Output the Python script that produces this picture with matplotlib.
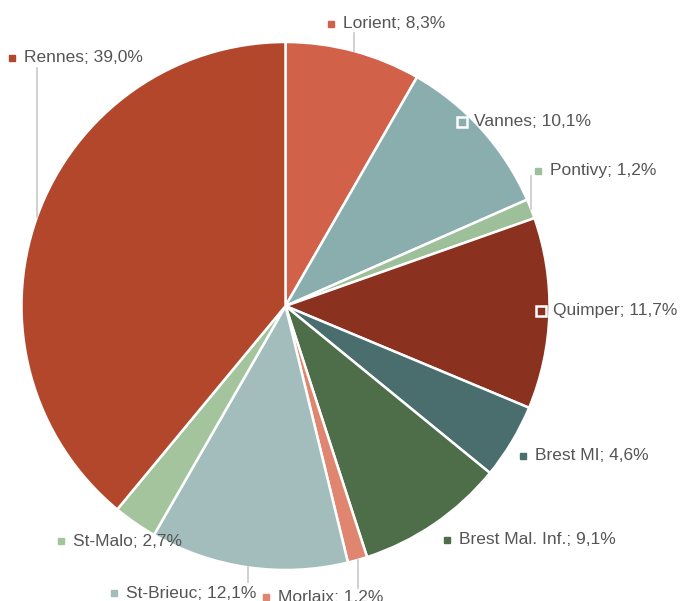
import numpy as np
import matplotlib.pyplot as plt

# slices, clockwise from 12 o'clock
labels = ["Lorient", "Vannes", "Pontivy", "Quimper", "Brest MI", "Brest Mal. Inf.",
          "Morlaix", "St-Brieuc", "St-Malo", "Rennes"]
shares = [8.3, 10.1, 1.2, 11.7, 4.6, 9.1, 1.2, 12.1, 2.7, 39.0]
colors = ["#d2614a", "#8aaeae", "#9dc09a", "#8b3120", "#4a6e6e", "#4d6e48",
          "#e08570", "#a3bdbd", "#a4c49d", "#b2472c"]

# label marker positions in pixels (layout)
label_pos = [(331, 24), (462, 122), (538, 171), (541, 311), (523, 456), (447, 540),
             (266, 597), (114, 593), (61, 541), (12, 58)]
outlined = {"Vannes", "Quimper"}   # markers sitting on the pie get a white ring
# leader lines: slice -> pixel y where line ends near label
leaders = {"Lorient": 33, "Pontivy": 176, "Morlaix": 588, "St-Brieuc": 582, "Rennes": 68}

W, H = 680, 601
cx, cy, R = 285.5, 306, 264

fig = plt.figure(figsize=(W / 100, H / 100), dpi=100)
ax = fig.add_axes([0, 0, 1, 1])
ax.pie(shares, colors=colors, startangle=90, counterclock=False,
       center=(cx, H - cy), radius=R,
       wedgeprops=dict(edgecolor="white", linewidth=1.8))
ax.set_xlim(0, W)
ax.set_ylim(0, H)
ax.set_aspect("equal")
ax.axis("off")

cum = np.cumsum([0] + shares[:-1])
for name, s, c0, col, (px, py) in zip(labels, shares, cum, colors, label_pos):
    mid = np.deg2rad((c0 + s / 2) / 100 * 360)
    ex = cx + R * np.sin(mid)
    ey = cy - R * np.cos(mid)
    if name in leaders:
        ax.plot([ex, ex], [H - ey, H - leaders[name]], color="#c8c8c8", lw=1.2, zorder=1)
    if name in outlined:
        ax.plot(px, H - py, marker="s", ms=6.5, mfc=col, mec="white", mew=1.8, zorder=5)
    else:
        ax.plot(px, H - py, marker="s", ms=4.5, mfc=col, mec=col, zorder=5)
    txt = f"{name}; {str(s).replace('.', ',')}%"
    ax.text(px + 12, H - py, txt, fontsize=12.5, color="#555555",
            family="Liberation Sans", va="center", ha="left", zorder=6)

fig.savefig("out.png", dpi=100)
